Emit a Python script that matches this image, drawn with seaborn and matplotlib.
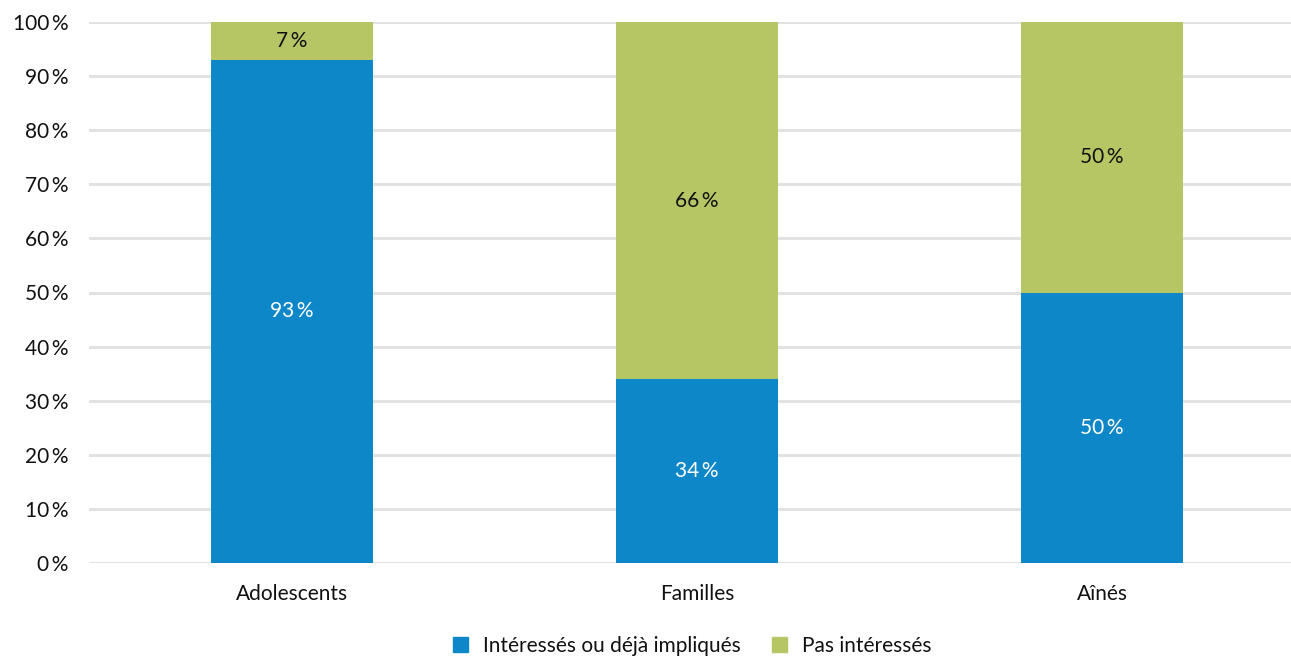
import matplotlib
matplotlib.use('Agg')
from matplotlib import pyplot as plt
from matplotlib.patches import Patch
import seaborn as sns
import pandas as pd

categories = ['Adolescents', 'Familles', 'Aînés']
interesses = [93, 34, 50]
pas_interesses = [7, 66, 50]
series_names = ['Intéressés ou déjà impliqués', 'Pas intéressés']
blue, green = '#0e87c9', '#b6c664'

sns.set_theme(style='white')
plt.rcParams['font.family'] = ['Lato', 'DejaVu Sans']

df = pd.DataFrame({'cat': categories, 'a': interesses, 'b': pas_interesses})
df['total'] = df['a'] + df['b']

fig = plt.figure(figsize=(12.91, 6.58), dpi=100)
ax = fig.add_axes([89 / 1291, 1 - 563 / 658, 1 - 89 / 1291, (563 - 22) / 658])

sns.barplot(data=df, x='cat', y='total', color=green, width=0.4, saturation=1,
            linewidth=0, ax=ax, zorder=2)
sns.barplot(data=df, x='cat', y='a', color=blue, width=0.4, saturation=1,
            linewidth=0, ax=ax, zorder=3)

fs = 15
for i, (a, b) in enumerate(zip(interesses, pas_interesses)):
    ax.text(i, a / 2, f'{a}\u2009%', ha='center', va='center', color='white', fontsize=fs, zorder=4)
    ax.text(i, a + b / 2, f'{b}\u2009%', ha='center', va='center', color='#111111', fontsize=fs, zorder=4)

ax.set_xlim(-0.5, 2.466)
ax.set_ylim(0, 100)
ax.set_yticks(range(0, 101, 10))
ax.set_yticklabels([f'{v}\u2009%' for v in range(0, 101, 10)], fontsize=fs, color='#111111')
ax.tick_params(axis='x', labelsize=fs, labelcolor='#111111', length=0, pad=15)
ax.tick_params(axis='y', length=0, pad=15)
ax.set_xlabel('')
ax.set_ylabel('')
ax.yaxis.grid(True, color='#e2e2e2', linewidth=2.2, zorder=0)
ax.set_axisbelow(True)
for s in ax.spines.values():
    s.set_visible(False)

handles = [Patch(color=blue), Patch(color=green)]
fig.legend(handles, series_names, loc='center', bbox_to_anchor=(692 / 1291, 1 - 646 / 658),
           ncol=2, frameon=False, fontsize=fs, handlelength=0.75, handleheight=0.75,
           columnspacing=1.5, handletextpad=0.7, labelcolor='#111111')

plt.savefig('out.png', dpi=100)
